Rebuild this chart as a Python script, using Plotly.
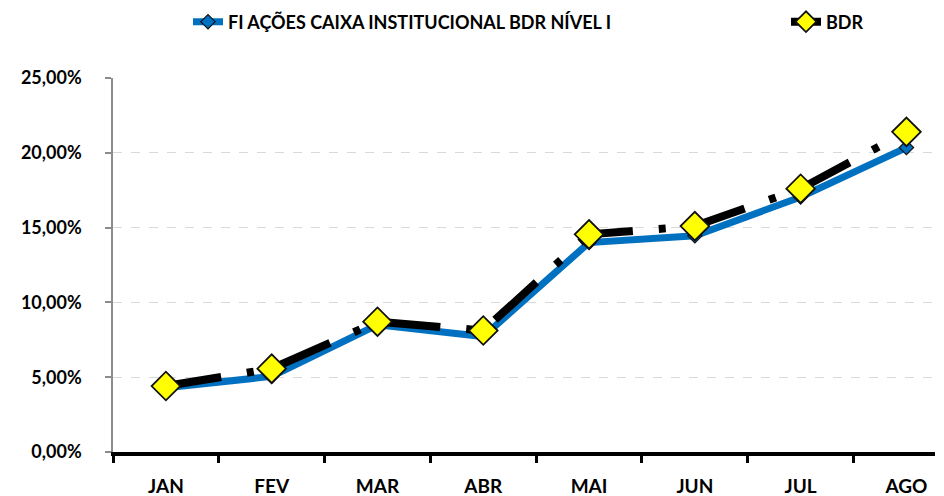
import plotly.graph_objects as go

months = ["JAN", "FEV", "MAR", "ABR", "MAI", "JUN", "JUL", "AGO"]
fundo = [4.30, 5.05, 8.50, 7.72, 14.00, 14.45, 17.05, 20.35]
bdr = [4.41, 5.57, 8.71, 8.12, 14.55, 15.10, 17.60, 21.40]
yticks = [0, 5, 10, 15, 20, 25]
ytick_text = [f"{v:.2f}".replace(".", ",") + "%" for v in yticks]

FONT = "Lato"

fig = go.Figure()
fig.add_trace(go.Scatter(
    x=months, y=fundo, name="FI AÇÕES CAIXA INSTITUCIONAL BDR NÍVEL I",
    mode="lines+markers", legend="legend",
    line=dict(color="#0070C0", width=7),
    marker=dict(symbol="diamond", size=11, color="#0070C0",
                line=dict(color="#111111", width=1.2)),
))
fig.add_trace(go.Scatter(
    x=months, y=bdr, name="BDR",
    mode="lines+markers", legend="legend2",
    line=dict(color="#000000", width=8, dash="56px,26px,7px,26px"),
    marker=dict(symbol="diamond", size=22, color="#FFFF00",
                line=dict(color="#111111", width=1.8)),
))

legend_font = dict(family=FONT, size=18, color="#000000", weight="bold")
fig.update_layout(
    width=944, height=496,
    margin=dict(l=105, r=17, t=70, b=52, autoexpand=False),
    paper_bgcolor="white", plot_bgcolor="white",
    font=dict(family=FONT, size=18, color="#000000"),
    showlegend=True,
    legend=dict(
        orientation="h", xref="container", yref="container",
        x=180 / 944, y=1 - 14 / 496, xanchor="left", yanchor="middle",
        font=legend_font, bgcolor="rgba(0,0,0,0)",
    ),
    legend2=dict(
        orientation="h", xref="container", yref="container",
        x=778 / 944, y=1 - 14 / 496, xanchor="left", yanchor="middle",
        font=legend_font, bgcolor="rgba(0,0,0,0)",
    ),
)
fig.update_xaxes(
    type="category", range=[-0.5, 7.27], automargin=False,
    showline=True, linecolor="#000000", linewidth=4,
    ticks="outside", tickson="boundaries", ticklen=7, tickwidth=3, tickcolor="#000000",
    showgrid=False, zeroline=False,
    tickfont=dict(family=FONT, size=19, color="#000000", weight="bold"),
    ticklabelstandoff=14,
)
fig.update_yaxes(
    range=[0, 25], tickvals=yticks, ticktext=ytick_text, automargin=False,
    showline=True, linecolor="#8c8c8c", linewidth=1.5,
    ticks="outside", ticklen=6, tickwidth=1.5, tickcolor="#8c8c8c",
    showgrid=True, gridcolor="#d9d9d9", griddash="dash", gridwidth=1.2,
    zeroline=False,
    tickfont=dict(family=FONT, size=18, color="#000000", weight="bold"),
    ticklabelstandoff=20,
)

fig.write_html("out.html")
